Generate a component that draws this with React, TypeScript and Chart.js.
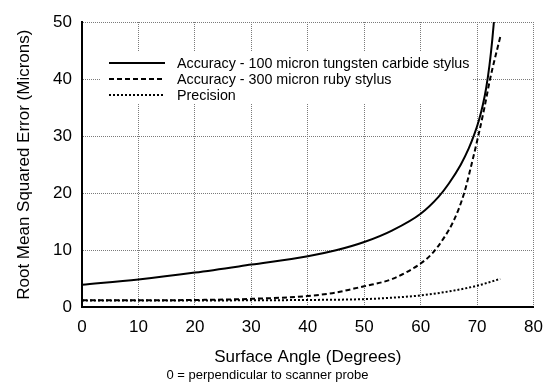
import React, { useEffect, useRef } from "react";
import { Chart, registerables } from "chart.js";

Chart.register(...registerables);

const FONT = "'Liberation Sans', Arial, sans-serif";

const solidAngles = [0, 10, 20, 30, 40, 45, 50, 55, 60, 63.2, 65, 67.1, 68.5, 69.5, 70.3, 71, 71.6, 72.2, 72.7, 73];
const solidValues = [3.95, 4.9, 6.1, 7.5, 8.95, 10, 11.45, 13.5, 16.4, 19.4, 21.7, 25.0, 27.8, 30.3, 32.7, 35.4, 38.4, 42.5, 47, 50.3];

const rubyAngles = [0, 10, 20, 30, 40, 45, 48.2, 50, 55, 60, 62, 64, 66, 67.7, 69, 70.2, 71.3, 72.3, 74.1];
const rubyValues = [1.25, 1.25, 1.3, 1.5, 2.0, 2.6, 3.3, 3.7, 5.0, 7.7, 9.4, 12, 15.5, 20, 25, 30, 35, 40, 47.4];

const precisionAngles = [0, 10, 20, 30, 40, 50, 55, 60, 65, 70, 74.1];
const precisionValues = [1.2, 1.2, 1.2, 1.25, 1.3, 1.45, 1.7, 2.1, 2.8, 3.8, 5.0];

const seriesLabels = [
  "Accuracy - 100 micron tungsten carbide stylus",
  "Accuracy - 300 micron ruby stylus",
  "Precision",
];

const xTitle = "Surface Angle (Degrees)";
const xSubtitle = "0 = perpendicular to scanner probe";
const yTitle = "Root Mean Squared Error (Microns)";

const toPoints = (xs: number[], ys: number[]) => xs.map((x, i) => ({ x, y: ys[i] }));

const legendPlugin = {
  id: "insideLegend",
  afterDraw(chart: any) {
    const ctx = chart.ctx;
    ctx.save();
    ctx.fillStyle = "#ffffff";
    ctx.fillRect(100, 51, 372, 53);
    const rows = [63, 79, 95];
    chart.data.datasets.forEach((ds: any, i: number) => {
      const y = rows[i];
      ctx.strokeStyle = "#000";
      ctx.lineWidth = 2;
      ctx.setLineDash(ds.borderDash || []);
      ctx.beginPath();
      ctx.moveTo(109, y);
      ctx.lineTo(165, y);
      ctx.stroke();
      ctx.setLineDash([]);
      ctx.fillStyle = "#000";
      ctx.font = `14.3px ${FONT}`;
      ctx.textBaseline = "middle";
      ctx.textAlign = "left";
      ctx.fillText(ds.label, 177, y + 1);
    });
    ctx.restore();
  },
};

export default function App() {
  const ref = useRef<HTMLCanvasElement | null>(null);

  useEffect(() => {
    document.body.style.margin = "0";
    const canvas = ref.current;
    if (!canvas) return;
    const gridOpts = {
      color: "#7a7a7a",
      lineWidth: 1,
      drawTicks: false,
    };
    const borderOpts = { display: true, color: "#000", width: 2, dash: [1, 1] };
    const chart = new Chart(canvas, {
      type: "line",
      data: {
        datasets: [
          {
            label: seriesLabels[0],
            data: toPoints(solidAngles, solidValues),
            borderColor: "#000",
            borderWidth: 2,
            pointRadius: 0,
            cubicInterpolationMode: "monotone",
            fill: false,
          },
          {
            label: seriesLabels[1],
            data: toPoints(rubyAngles, rubyValues),
            borderColor: "#000",
            borderWidth: 2,
            borderDash: [5, 3],
            pointRadius: 0,
            cubicInterpolationMode: "monotone",
            fill: false,
          },
          {
            label: seriesLabels[2],
            data: toPoints(precisionAngles, precisionValues),
            borderColor: "#000",
            borderWidth: 2,
            borderDash: [2, 2],
            pointRadius: 0,
            cubicInterpolationMode: "monotone",
            fill: false,
          },
        ],
      },
      options: {
        responsive: false,
        animation: false,
        layout: { padding: { top: 22, right: 18, bottom: 3, left: 0 } },
        plugins: {
          legend: { display: false },
          tooltip: { enabled: false },
          subtitle: {
            display: true,
            position: "bottom",
            text: xSubtitle,
            color: "#000",
            font: { family: FONT, size: 13, weight: "normal" },
            padding: 0,
          },
        },
        scales: {
          x: {
            type: "linear",
            min: 0,
            max: 80,
            afterFit: (s: any) => {
              s.height = 60;
            },
            ticks: {
              stepSize: 10,
              color: "#000",
              padding: 10,
              font: { family: FONT, size: 17 },
            },
            grid: gridOpts,
            border: borderOpts,
            title: {
              display: true,
              text: xTitle,
              color: "#000",
              font: { family: FONT, size: 17 },
              padding: { top: 0, bottom: 0 },
            },
          },
          y: {
            type: "linear",
            min: 0,
            max: 50,
            afterFit: (s: any) => {
              s.width = 82;
            },
            ticks: {
              stepSize: 10,
              color: "#000",
              padding: 10,
              font: { family: FONT, size: 17 },
            },
            grid: gridOpts,
            border: borderOpts,
            title: {
              display: true,
              text: yTitle,
              color: "#000",
              font: { family: FONT, size: 17 },
              padding: { top: 14, bottom: 0 },
            },
          },
        },
      },
      plugins: [legendPlugin],
    } as any);
    return () => chart.destroy();
  }, []);

  return (
    <div style={{ width: 553, height: 386 }}>
      <canvas ref={ref} width={553} height={386} />
    </div>
  );
}
